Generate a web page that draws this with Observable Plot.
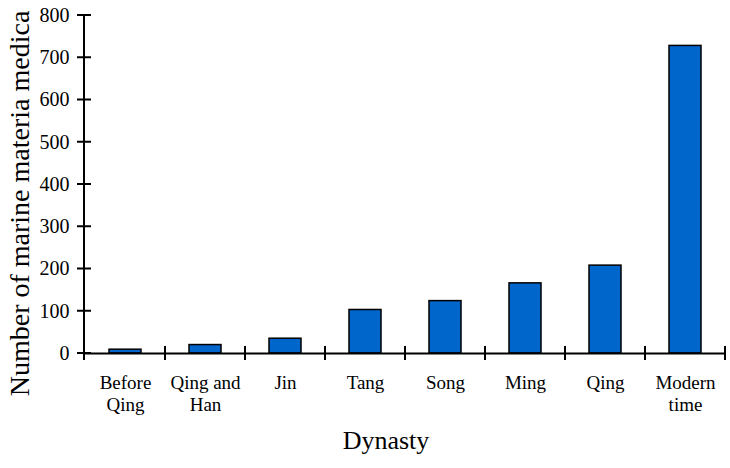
<!DOCTYPE html>
<html>
<head>
<meta charset="utf-8">
<script src="https://cdn.jsdelivr.net/npm/d3@7"></script>
<script src="https://cdn.jsdelivr.net/npm/@observablehq/plot@0.6"></script>
<style>
  html, body { margin: 0; padding: 0; background: #fff; }
  svg text { font-family: 'Liberation Serif', 'Times New Roman', serif; font-variant: normal; }
</style>
</head>
<body>
<div id="chart"></div>
<script>
const dynasties = ["Before\nQing", "Qing and\nHan", "Jin", "Tang", "Song", "Ming", "Qing", "Modern\ntime"];
const counts = [9, 20, 35, 103, 124, 166, 208, 728];
const yTicks = [0, 100, 200, 300, 400, 500, 600, 700, 800];
const yTitle = "Number of marine materia medica";
const xTitle = "Dynasty";

const data = dynasties.map((d, i) => ({dynasty: d, count: counts[i]}));
const serif = "'Liberation Serif', 'Times New Roman', serif";

const axisDecor = (index, scales, values, dimensions) => {
  const {marginLeft, marginTop} = dimensions;
  const x = scales.x, y = scales.y;
  const y0 = y(0);
  const g = d3.create("svg:g").attr("stroke", "black").attr("stroke-width", 2);
  g.append("line").attr("x1", marginLeft).attr("x2", marginLeft)
    .attr("y1", marginTop).attr("y2", y0 + 7);
  for (const t of yTicks) {
    g.append("line").attr("x1", marginLeft - 7).attr("x2", marginLeft + 7)
      .attr("y1", y(t)).attr("y2", y(t));
  }
  const step = x.step(), bw = x.bandwidth();
  for (const c of dynasties) {
    const xr = x(c) - (step - bw) / 2 + step;
    g.append("line").attr("x1", xr).attr("x2", xr)
      .attr("y1", y0 - 7).attr("y2", y0 + 7);
  }
  return g.node();
};

const chart = Plot.plot({
  width: 730,
  height: 468,
  marginLeft: 84,
  marginRight: 5,
  marginTop: 15,
  marginBottom: 115,
  style: {fontFamily: serif, color: "black", background: "white", overflow: "visible"},
  x: {domain: dynasties, paddingInner: 0.6, paddingOuter: 0.3, align: 0.5, label: null},
  y: {domain: [0, 800], label: null},
  marks: [
    Plot.barY(data, {x: "dynasty", y: "count", fill: "#0066cc", stroke: "black", strokeWidth: 1.5}),
    Plot.ruleY([0], {stroke: "black", strokeWidth: 2}),
    axisDecor,
    Plot.axisY(yTicks, {tickSize: 0, tickPadding: 15, fontSize: 20, fontFamily: serif, label: null, fill: "black"}),
    Plot.axisX({tickSize: 0, tickPadding: 19, fontSize: 19, fontFamily: serif, lineHeight: 1.2, label: null, fill: "black"}),
    Plot.text([yTitle], {text: d => d, frameAnchor: "left", textAnchor: "middle", lineAnchor: "middle", rotate: -90, dx: -64, dy: 19, fontSize: 28, fontFamily: serif, fill: "black"}),
    Plot.text([xTitle], {text: d => d, frameAnchor: "bottom", textAnchor: "middle", dx: -19, dy: 95, fontSize: 26, fontFamily: serif, fill: "black"})
  ]
});
document.getElementById("chart").appendChild(chart);
</script>
</body>
</html>
